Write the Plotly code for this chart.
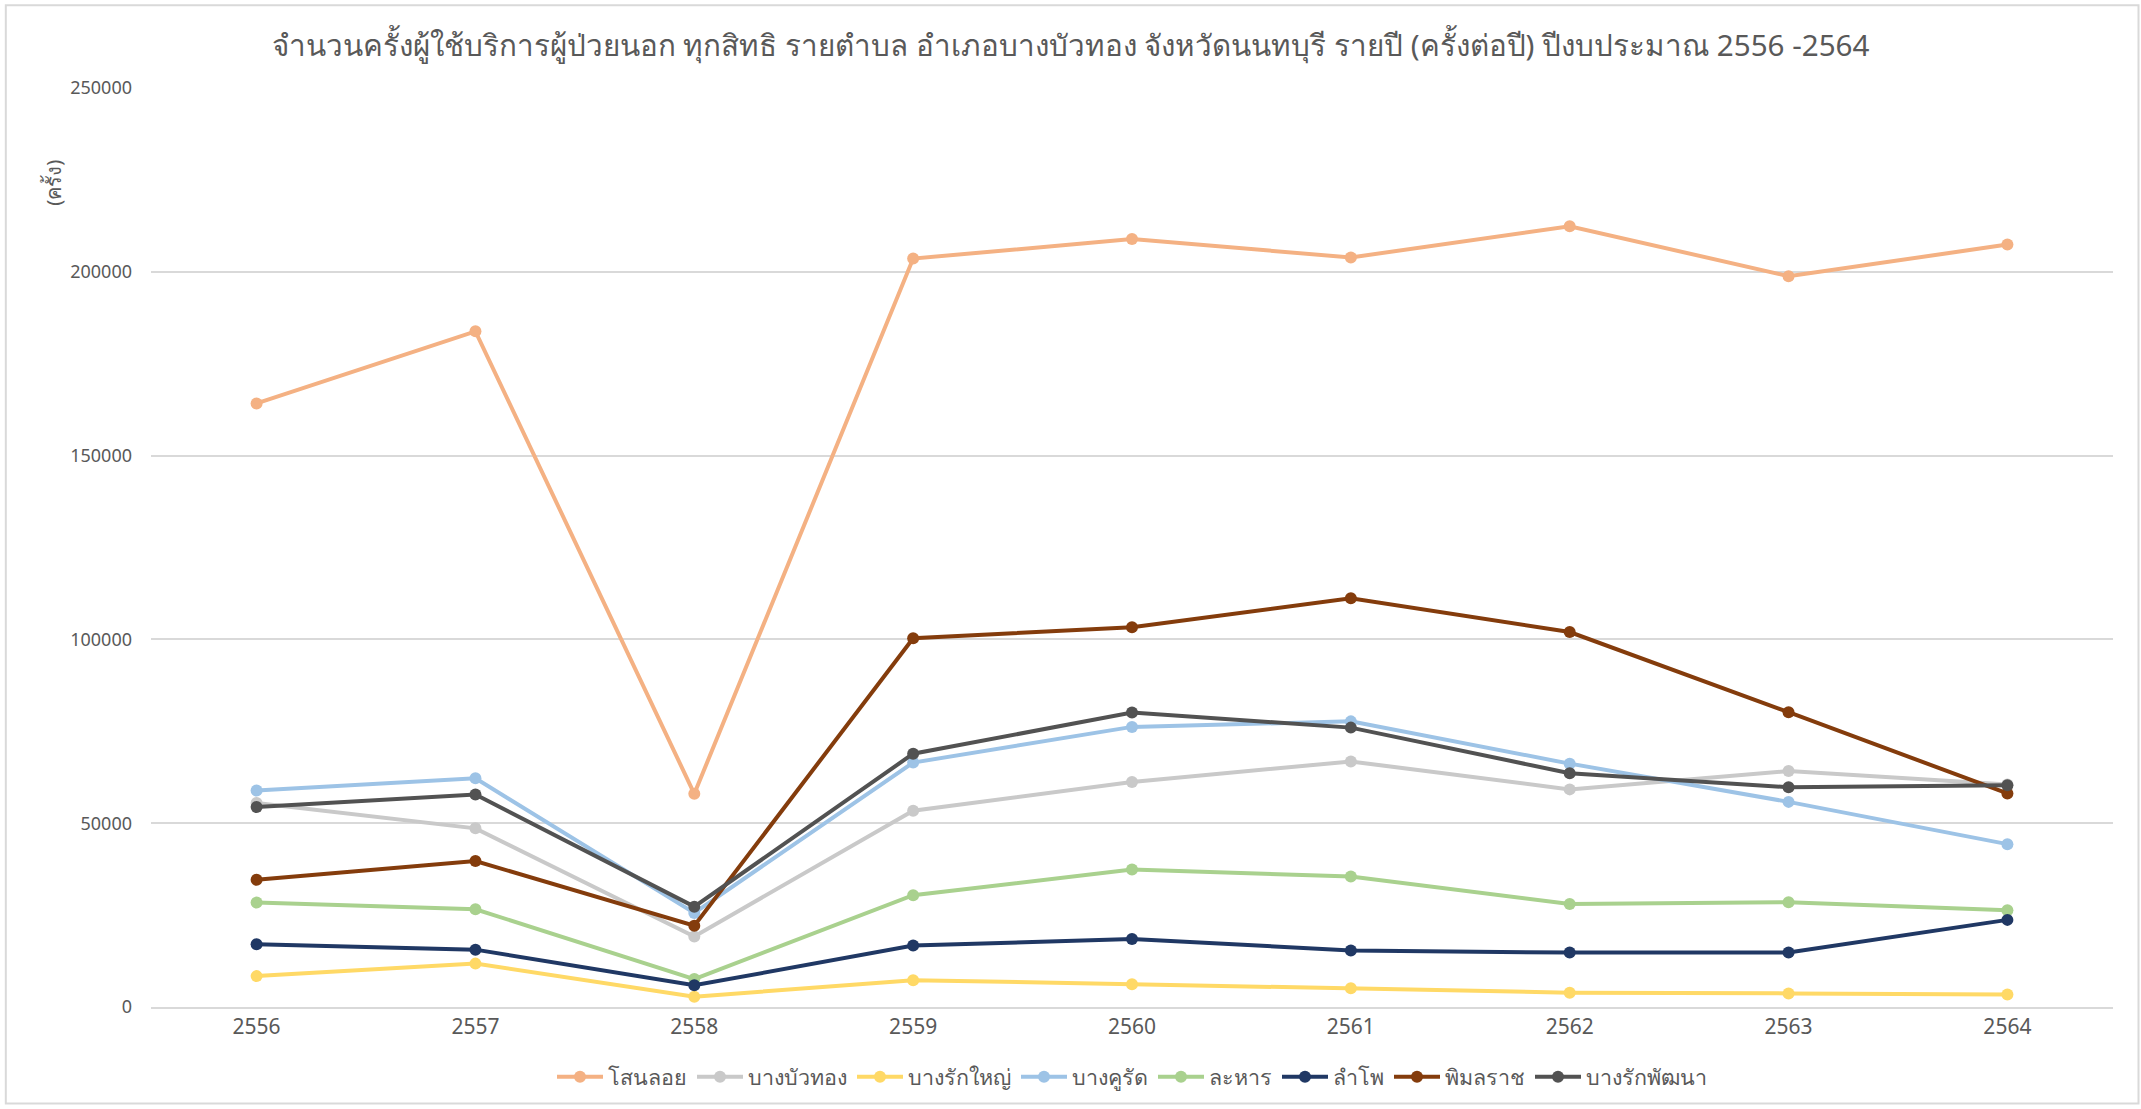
import plotly.graph_objects as go

years = ["2556", "2557", "2558", "2559", "2560", "2561", "2562", "2563", "2564"]

sanoloi = [164200, 183800, 58000, 203600, 208900, 203900, 212400, 198800, 207400]
bang_bua_thong = [55500, 48600, 19200, 53400, 61200, 66800, 59200, 64200, 60500]
bang_rak_yai = [8400, 11800, 2800, 7300, 6200, 5100, 3900, 3700, 3400]
bang_khu_rat = [58900, 62200, 25600, 66500, 76200, 77700, 66200, 55800, 44300]
lahan = [28400, 26600, 7600, 30400, 37400, 35500, 28000, 28500, 26300]
lam_pho = [17100, 15600, 5900, 16700, 18500, 15400, 14800, 14800, 23700]
phimonrat = [34600, 39700, 22100, 100300, 103300, 111200, 102000, 80200, 58100]
bang_rak_phatthana = [54400, 57800, 27300, 68900, 80100, 76000, 63600, 59800, 60300]

series = [
    ("โสนลอย", sanoloi, "#F4B183"),
    ("บางบัวทอง", bang_bua_thong, "#C9C9C9"),
    ("บางรักใหญ่", bang_rak_yai, "#FFD966"),
    ("บางคูรัด", bang_khu_rat, "#9DC3E6"),
    ("ละหาร", lahan, "#A9D18E"),
    ("ลำโพ", lam_pho, "#203864"),
    ("พิมลราช", phimonrat, "#843C0C"),
    ("บางรักพัฒนา", bang_rak_phatthana, "#525252"),
]

font = "Tahoma, 'Noto Sans', 'DejaVu Sans', sans-serif"

fig = go.Figure()
for name, vals, color in series:
    fig.add_trace(go.Scatter(
        x=years, y=vals, name=name, mode="lines+markers",
        line=dict(color=color, width=4),
        marker=dict(color=color, size=12),
    ))

fig.update_layout(
    width=2141, height=1109,
    paper_bgcolor="white", plot_bgcolor="white",
    margin=dict(l=151, r=28, t=88, b=99),
    font=dict(family=font, color="#595959"),
    title=dict(
        text="จำนวนครั้งผู้ใช้บริการผู้ป่วยนอก ทุกสิทธิ รายตำบล อำเภอบางบัวทอง จังหวัดนนทบุรี รายปี (ครั้งต่อปี) ปีงบประมาณ 2556 -2564",
        x=0.5, xanchor="center", y=0.959, yanchor="middle",
        font=dict(size=29.6, color="#595959"),
    ),
    xaxis=dict(
        type="category", showgrid=False, showline=True, linecolor="#D9D9D9", linewidth=1.5,
        ticks="", tickfont=dict(size=21, color="#595959"),
    ),
    yaxis=dict(
        range=[0, 250000], dtick=50000, showgrid=True, gridcolor="#D9D9D9", gridwidth=1.5,
        zeroline=False, showline=False, tickformat="d", ticks="", ticklen=0,
        tickfont=dict(size=18, color="#595959"), ticklabelstandoff=18,
    ),
    legend=dict(
        orientation="h", x=0.5, xanchor="center", y=-0.076, yanchor="middle",
        font=dict(size=21.5, color="#595959"), itemwidth=46, traceorder="normal",
    ),
    annotations=[dict(
        text="(ครั้ง)", textangle=-90, xref="paper", yref="paper",
        x=-0.0494, y=0.897, xanchor="center", yanchor="middle", showarrow=False,
        font=dict(size=20, color="#595959"),
    )],
    shapes=[dict(
        type="rect", xref="paper", yref="paper",
        x0=-0.074, x1=1.013, y0=-0.105, y1=1.09,
        line=dict(color="#D9D9D9", width=2),
    )],
)

# drop the browser's default 8px body margin so the figure sits at the page origin
fig.write_html(
    "out.html",
    config={"displayModeBar": False},
    post_script="document.body.style.margin='0';",
)
